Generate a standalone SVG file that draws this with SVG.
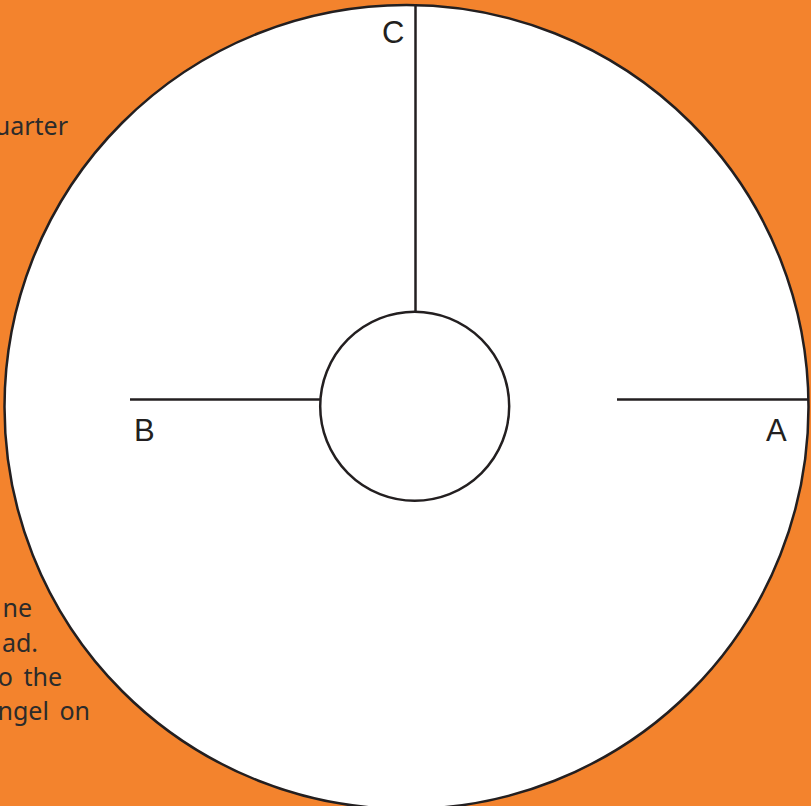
<svg xmlns="http://www.w3.org/2000/svg" width="811" height="806" viewBox="0 0 811 806">
<style>
.ln{stroke:#231f20;stroke-width:2.5;fill:none}
.ci{stroke:#231f20;stroke-width:2.5;fill:#fff}
.lbl{font-family:"Liberation Sans",Arial,sans-serif;font-size:31px;fill:#231f20}
.side{font-family:"Noto Sans","Open Sans",sans-serif;font-size:25px;fill:#2b2b2b;text-anchor:end;word-spacing:4px}
</style>
<rect x="0" y="0" width="811" height="806" fill="#f3832d"/>
<g id="sidetext">
<text class="side" x="68" y="135">uarter</text>
<text class="side" x="32" y="617">ne</text>
<text class="side" x="38" y="652">ad.</text>
<text class="side" x="62" y="686">o the</text>
<text class="side" x="90" y="720">ngel on</text>
</g>
<g id="outer"><circle class="ci" cx="406.5" cy="407" r="402"/></g>
<g id="connectors">
<line class="ln" x1="415.5" y1="5" x2="415.5" y2="312"/>
<line class="ln" x1="130" y1="399.5" x2="321" y2="399.5"/>
<line class="ln" x1="617" y1="399.5" x2="808" y2="399.5"/>
</g>
<g id="inner"><circle class="ci" cx="414.7" cy="406.2" r="94.5"/></g>
<g id="labels">
<text class="lbl" x="382" y="43">C</text>
<text class="lbl" x="134" y="441">B</text>
<text class="lbl" x="766" y="441">A</text>
</g>
</svg>
